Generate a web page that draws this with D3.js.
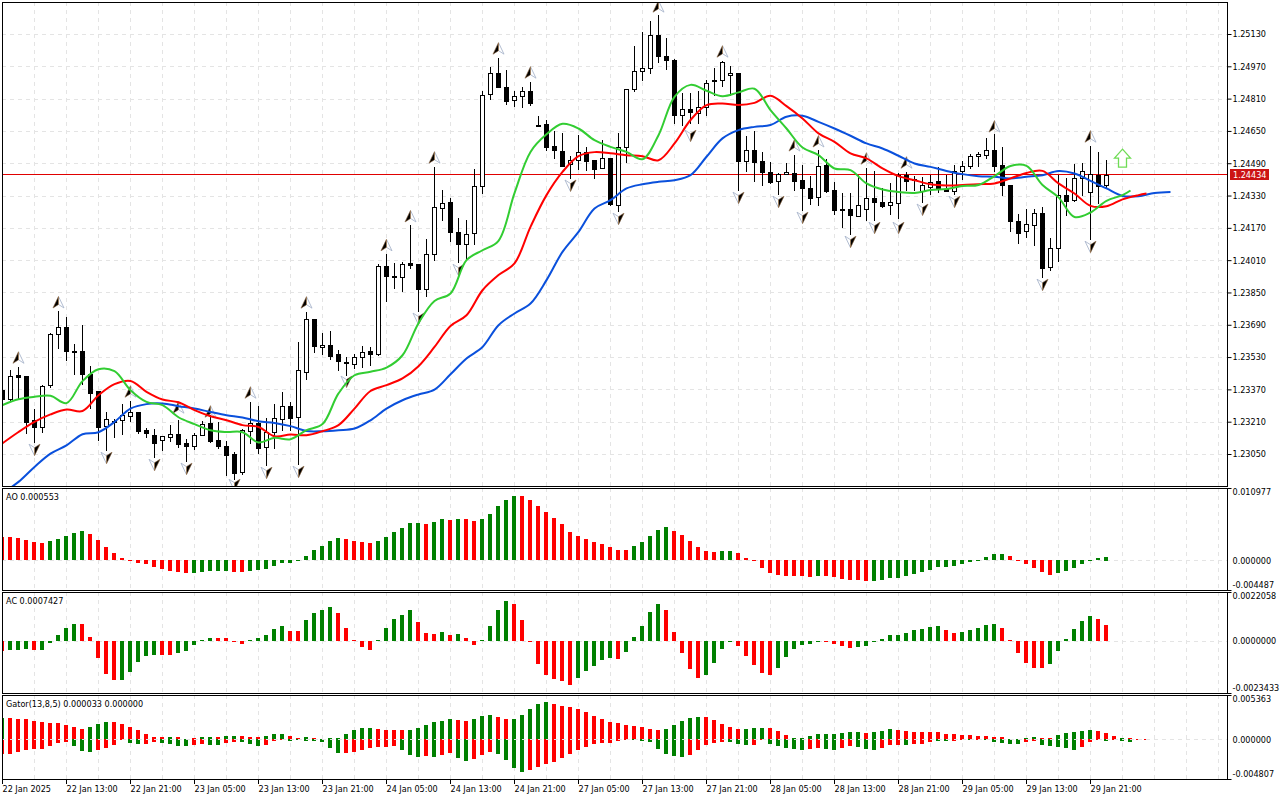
<!DOCTYPE html>
<html>
<head>
<meta charset="utf-8">
<script src="https://cdn.jsdelivr.net/npm/d3@7"></script>
<style>
html, body { margin: 0; padding: 0; background: #fff; }
svg { display: block; }
text { font-family: "DejaVu Sans Condensed", "Liberation Sans", sans-serif; font-size: 9px; fill: #000; }
</style>
</head>
<body>
<svg id="chart" width="1280" height="800"></svg>
<script>
// candles, one per bar
var highs = [1.23391,1.23465,1.23480,1.23435,1.23275,1.23391,1.23648,1.23757,1.23729,1.23594,1.23688,1.23485,1.23361,1.23257,1.23221,1.23297,1.23313,1.23257,1.23181,1.23173,1.23138,1.23193,1.23217,1.23122,1.23154,1.23214,1.23242,1.23207,1.23112,1.23060,1.23173,1.23307,1.23287,1.23227,1.23300,1.23356,1.23307,1.23604,1.23751,1.23721,1.23647,1.23658,1.23564,1.23531,1.23544,1.23584,1.23580,1.23989,1.24040,1.23994,1.23999,1.24183,1.23989,1.24117,1.24471,1.24357,1.24316,1.24217,1.24208,1.24459,1.24849,1.24968,1.25011,1.24951,1.24849,1.24866,1.24890,1.24723,1.24704,1.24649,1.24639,1.24525,1.24628,1.24568,1.24505,1.24604,1.24514,1.24638,1.24856,1.25070,1.25138,1.25194,1.25224,1.25110,1.25006,1.24839,1.24836,1.24846,1.24902,1.24960,1.24996,1.24971,1.24936,1.24624,1.24649,1.24544,1.24494,1.24442,1.24489,1.24530,1.24481,1.24426,1.24555,1.24512,1.24398,1.24343,1.24343,1.24431,1.24464,1.24451,1.24365,1.24390,1.24444,1.24447,1.24426,1.24423,1.24431,1.24472,1.24431,1.24481,1.24499,1.24534,1.24548,1.24614,1.24634,1.24568,1.24380,1.24241,1.24263,1.24263,1.24274,1.24122,1.24431,1.24416,1.24484,1.24489,1.24575,1.24544,1.24505];
var lows = [1.23307,1.23316,1.23326,1.23154,1.23108,1.23159,1.23381,1.23575,1.23515,1.23445,1.23399,1.23278,1.23118,1.23069,1.23135,1.23148,1.23212,1.23154,1.23135,1.23036,1.23069,1.23113,1.23085,1.23016,1.23077,1.23143,1.23110,1.23079,1.22945,1.22925,1.22953,1.23102,1.23055,1.22994,1.23080,1.23171,1.23168,1.22998,1.23419,1.23556,1.23544,1.23520,1.23465,1.23440,1.23478,1.23481,1.23493,1.23539,1.23808,1.23873,1.23858,1.23972,1.23757,1.23833,1.24011,1.24208,1.24106,1.24002,1.24010,1.24088,1.24343,1.24806,1.24868,1.24783,1.24773,1.24769,1.24779,1.24675,1.24555,1.24517,1.24476,1.24418,1.24459,1.24456,1.24418,1.24464,1.24284,1.24254,1.24494,1.24849,1.24902,1.24938,1.24992,1.24955,1.24687,1.24679,1.24687,1.24689,1.24728,1.24827,1.24872,1.24827,1.24357,1.24452,1.24401,1.24382,1.24393,1.24337,1.24437,1.24357,1.24258,1.24287,1.24282,1.24348,1.24241,1.24175,1.24139,1.24229,1.24208,1.24208,1.24274,1.24241,1.24217,1.24357,1.24357,1.24296,1.24340,1.24348,1.24352,1.24340,1.24411,1.24467,1.24476,1.24517,1.24451,1.24332,1.24155,1.24096,1.24125,1.24084,1.23927,1.23960,1.24005,1.24233,1.24304,1.24332,1.24114,1.24291,1.24365];
var opens = [1.23366,1.23320,1.23440,1.23435,1.23217,1.23184,1.23391,1.23642,1.23677,1.23559,1.23559,1.23447,1.23361,1.23184,1.23210,1.23214,1.23239,1.23257,1.23168,1.23143,1.23115,1.23135,1.23151,1.23103,1.23090,1.23146,1.23202,1.23118,1.23092,1.23049,1.22961,1.23164,1.23204,1.23082,1.23159,1.23226,1.23290,1.23229,1.23457,1.23721,1.23580,1.23592,1.23544,1.23506,1.23496,1.23533,1.23558,1.23543,1.23979,1.23931,1.23924,1.23994,1.23989,1.23863,1.24038,1.24271,1.24296,1.24147,1.24093,1.24142,1.24375,1.24831,1.24935,1.24870,1.24799,1.24821,1.24846,1.24681,1.24684,1.24573,1.24553,1.24484,1.24504,1.24548,1.24505,1.24464,1.24514,1.24286,1.24571,1.24854,1.24945,1.24960,1.25123,1.25019,1.24999,1.24727,1.24757,1.24740,1.24769,1.24900,1.24900,1.24923,1.24936,1.24502,1.24558,1.24499,1.24449,1.24405,1.24437,1.24444,1.24405,1.24365,1.24319,1.24479,1.24355,1.24261,1.24261,1.24229,1.24264,1.24316,1.24297,1.24279,1.24296,1.24431,1.24411,1.24348,1.24373,1.24401,1.24363,1.24353,1.24447,1.24472,1.24522,1.24534,1.24558,1.24479,1.24380,1.24202,1.24150,1.24185,1.24246,1.23972,1.24073,1.24335,1.24307,1.24415,1.24350,1.24434,1.24383];
var closes = [1.23321,1.23434,1.23430,1.23207,1.23184,1.23386,1.23642,1.23677,1.23556,1.23554,1.23447,1.23353,1.23184,1.23221,1.23215,1.23241,1.23257,1.23164,1.23154,1.23103,1.23137,1.23151,1.23100,1.23090,1.23146,1.23199,1.23113,1.23089,1.23045,1.22956,1.23171,1.23204,1.23080,1.23158,1.23226,1.23290,1.23229,1.23464,1.23721,1.23585,1.23592,1.23536,1.23511,1.23502,1.23531,1.23556,1.23541,1.23979,1.23927,1.23926,1.23989,1.23985,1.23863,1.24038,1.24271,1.24294,1.24147,1.24088,1.24142,1.24375,1.24826,1.24935,1.24868,1.24799,1.24821,1.24846,1.24788,1.24676,1.24571,1.24553,1.24481,1.24505,1.24546,1.24502,1.24461,1.24514,1.24284,1.24571,1.24856,1.24945,1.24960,1.25123,1.25017,1.24999,1.24725,1.24757,1.24740,1.24769,1.24888,1.24893,1.24989,1.24935,1.24502,1.24558,1.24497,1.24447,1.24398,1.24439,1.24447,1.24403,1.24363,1.24317,1.24474,1.24348,1.24254,1.24254,1.24229,1.24281,1.24316,1.24294,1.24279,1.24296,1.24434,1.24403,1.24406,1.24380,1.24398,1.24365,1.24353,1.24451,1.24474,1.24524,1.24534,1.24558,1.24477,1.24378,1.24200,1.24145,1.24187,1.24246,1.23972,1.24068,1.24335,1.24307,1.24415,1.24452,1.24439,1.24381,1.24434];

// alligator lines, read every second bar
var lipsBars = d3.range(0, 141, 2).concat([141]);
var lips = [1.23292,1.23321,1.23333,1.23338,1.23302,1.23411,1.23470,1.23460,1.23366,1.23308,1.23292,1.23232,1.23198,1.23168,1.23159,1.23158,1.23107,1.23130,1.23123,1.23168,1.23198,1.23350,1.23440,1.23457,1.23478,1.23539,1.23698,1.23808,1.23845,1.24010,1.24059,1.24106,1.24342,1.24546,1.24633,1.24685,1.24662,1.24604,1.24571,1.24546,1.24510,1.24629,1.24819,1.24878,1.24849,1.24822,1.24841,1.24859,1.24753,1.24662,1.24568,1.24530,1.24464,1.24456,1.24390,1.24360,1.24348,1.24343,1.24357,1.24362,1.24377,1.24382,1.24426,1.24476,1.24477,1.24382,1.24321,1.24224,1.24246,1.24304,1.24332,1.24355];
var teethBars = d3.range(0, 143, 2).concat([143]);
var teeth = [1.23103,1.23159,1.23209,1.23246,1.23270,1.23263,1.23341,1.23396,1.23412,1.23358,1.23320,1.23306,1.23267,1.23237,1.23217,1.23193,1.23184,1.23138,1.23146,1.23143,1.23163,1.23193,1.23275,1.23362,1.23391,1.23424,1.23485,1.23580,1.23684,1.23737,1.23861,1.23936,1.23994,1.24175,1.24332,1.24447,1.24525,1.24545,1.24539,1.24530,1.24525,1.24505,1.24588,1.24704,1.24778,1.24786,1.24778,1.24789,1.24824,1.24773,1.24712,1.24638,1.24596,1.24539,1.24514,1.24464,1.24426,1.24406,1.24386,1.24380,1.24382,1.24386,1.24390,1.24415,1.24442,1.24452,1.24390,1.24340,1.24279,1.24277,1.24311,1.24332,1.24340];
var jawBars = d3.range(0, 147, 2);
var jaw = [1.22856,1.22912,1.22986,1.23052,1.23093,1.23148,1.23158,1.23209,1.23275,1.23297,1.23300,1.23287,1.23275,1.23258,1.23242,1.23231,1.23212,1.23204,1.23188,1.23164,1.23163,1.23168,1.23176,1.23217,1.23275,1.23316,1.23345,1.23369,1.23445,1.23523,1.23580,1.23688,1.23746,1.23795,1.23911,1.24051,1.24150,1.24266,1.24307,1.24365,1.24386,1.24398,1.24406,1.24431,1.24522,1.24613,1.24654,1.24670,1.24679,1.24720,1.24725,1.24695,1.24662,1.24626,1.24588,1.24563,1.24527,1.24489,1.24472,1.24452,1.24436,1.24426,1.24423,1.24415,1.24423,1.24431,1.24451,1.24439,1.24403,1.24365,1.24328,1.24327,1.24343,1.24348];

// fractal arrows
var upFractalBars = [2,7,16,22,26,31,38,48,51,54,62,66,82,90,99,102,108,113,124,136];
var upFractalPrices = [1.23524,1.23798,1.23356,1.23277,1.23257,1.23351,1.23797,1.24081,1.24224,1.24515,1.25055,1.24936,1.25263,1.25040,1.24575,1.24595,1.24510,1.24490,1.24669,1.24619];
var downFractalBars = [4,13,19,23,29,33,37,43,52,57,71,77,86,92,97,100,106,109,112,115,119,130,136];
var downFractalPrices = [1.23074,1.23034,1.22999,1.22980,1.22900,1.22960,1.22965,1.23411,1.23723,1.23965,1.24382,1.24218,1.24629,1.24322,1.24302,1.24223,1.24104,1.24173,1.24173,1.24263,1.24302,1.23891,1.24079];
var signalBar = 140;
var signalPrice = 1.24515;
var lastPrice = 1.24434;

// oscillators
var aoValues = [0.00354,0.00354,0.00339,0.00308,0.00278,0.00263,0.00293,0.00323,0.00369,0.00414,0.00445,0.00399,0.00308,0.00202,0.00111,0.00035,-0.00005,-0.00040,-0.00056,-0.00101,-0.00131,-0.00162,-0.00177,-0.00192,-0.00192,-0.00177,-0.00162,-0.00162,-0.00162,-0.00177,-0.00177,-0.00162,-0.00147,-0.00131,-0.00086,-0.00040,-0.00040,-0.00020,0.00066,0.00157,0.00217,0.00293,0.00339,0.00323,0.00293,0.00278,0.00263,0.00293,0.00354,0.00430,0.00490,0.00566,0.00566,0.00551,0.00581,0.00627,0.00611,0.00627,0.00627,0.00596,0.00627,0.00702,0.00824,0.00915,0.00975,0.00975,0.00915,0.00824,0.00733,0.00642,0.00551,0.00430,0.00369,0.00323,0.00278,0.00248,0.00202,0.00157,0.00157,0.00217,0.00278,0.00369,0.00460,0.00505,0.00445,0.00384,0.00293,0.00202,0.00141,0.00126,0.00141,0.00141,0.00111,0.00035,-0.00020,-0.00116,-0.00192,-0.00222,-0.00237,-0.00237,-0.00237,-0.00253,-0.00237,-0.00237,-0.00253,-0.00283,-0.00298,-0.00298,-0.00313,-0.00313,-0.00298,-0.00268,-0.00268,-0.00237,-0.00207,-0.00177,-0.00147,-0.00101,-0.00101,-0.00086,-0.00056,-0.00025,-0.00010,0.00051,0.00096,0.00096,0.00066,0.00005,-0.00056,-0.00116,-0.00177,-0.00222,-0.00192,-0.00162,-0.00116,-0.00056,-0.00005,0.00035,0.00055];
var aoColors = "rrrrrr ggggg rrrrrrrrrrrrr ggggg rr gggggggggggg rrrr gggggg r gg r g rr ggggg rrrrrrrrrrrrrr ggggg rrrrrr gg rrrrrrrrrr g rrrrrr ggggggggggggggggg rrrrrr ggggggg";
var acValues = [-0.00044,-0.00041,-0.00041,-0.00036,-0.00041,-0.00041,-0.00008,0.00027,0.00059,0.00077,0.00077,0.00018,-0.00077,-0.00150,-0.00177,-0.00177,-0.00141,-0.00096,-0.00068,-0.00064,-0.00064,-0.00064,-0.00055,-0.00045,-0.00018,0.00005,0.00014,0.00014,0.00014,-0.00005,-0.00014,0.00005,0.00014,0.00027,0.00055,0.00068,0.00045,0.00045,0.00096,0.00127,0.00141,0.00155,0.00127,0.00059,0.00005,-0.00027,-0.00041,0.00005,0.00059,0.00100,0.00118,0.00141,0.00086,0.00036,0.00032,0.00041,0.00027,0.00032,0.00014,-0.00018,0.00005,0.00068,0.00141,0.00182,0.00168,0.00096,-0.00005,-0.00105,-0.00155,-0.00173,-0.00182,-0.00196,-0.00168,-0.00136,-0.00114,-0.00086,-0.00077,-0.00082,-0.00050,0.00018,0.00068,0.00132,0.00168,0.00141,0.00041,-0.00055,-0.00127,-0.00168,-0.00155,-0.00100,-0.00036,-0.00003,-0.00023,-0.00068,-0.00109,-0.00146,-0.00155,-0.00123,-0.00073,-0.00036,-0.00018,-0.00014,-0.00003,-0.00003,-0.00014,-0.00023,-0.00032,-0.00027,-0.00023,-0.00006,0.00009,0.00027,0.00027,0.00036,0.00050,0.00055,0.00064,0.00068,0.00050,0.00036,0.00041,0.00050,0.00059,0.00073,0.00077,0.00059,0.00005,-0.00055,-0.00100,-0.00123,-0.00123,-0.00105,-0.00045,0.00009,0.00055,0.00091,0.00114,0.00100,0.00074];
var acColors = "r ggg r ggggg rrrrr ggggg rr ggggg rrrr ggggg rr gggg rrrrr ggggg rrr g r g rr gggg rrrrrrrr ggggg r ggggg rrrrr gggg rrrrr gggggg rrrr ggggggggggg rr ggggg rrrrrr gggggg rr";
var gatorUpper = [0.00261,0.00261,0.00249,0.00249,0.00225,0.00212,0.00200,0.00200,0.00176,0.00151,0.00127,0.00151,0.00188,0.00212,0.00212,0.00188,0.00151,0.00114,0.00065,0.00029,0.00029,0.00029,0.00029,0.00004,0.00016,0.00029,0.00029,0.00029,0.00041,0.00041,0.00041,0.00029,0.00029,0.00041,0.00065,0.00065,0.00041,0.00016,0.00029,0.00016,0.00004,0.00016,0.00016,0.00065,0.00114,0.00139,0.00139,0.00127,0.00114,0.00114,0.00114,0.00114,0.00139,0.00176,0.00212,0.00225,0.00249,0.00237,0.00225,0.00249,0.00286,0.00298,0.00274,0.00249,0.00249,0.00298,0.00372,0.00433,0.00457,0.00433,0.00408,0.00396,0.00372,0.00335,0.00286,0.00249,0.00212,0.00200,0.00176,0.00163,0.00151,0.00127,0.00114,0.00127,0.00176,0.00225,0.00261,0.00274,0.00274,0.00237,0.00188,0.00151,0.00127,0.00127,0.00139,0.00139,0.00139,0.00102,0.00053,0.00016,0.00016,0.00041,0.00065,0.00065,0.00065,0.00078,0.00090,0.00090,0.00078,0.00090,0.00102,0.00127,0.00114,0.00102,0.00090,0.00090,0.00090,0.00090,0.00065,0.00065,0.00053,0.00053,0.00041,0.00041,0.00029,0.00029,0.00004,0.00004,0.00016,0.00029,0.00016,0.00016,0.00053,0.00078,0.00090,0.00102,0.00114,0.00102,0.00078,0.00041,0.00016,0.00016,0.00004,0.00004];
var gatorUpperColors = "g rrrrrrrrrr ggg rrrrrrr g rrr gg r gg rrr ggg rr g r ggggggg rrrr gggggg rr ggg rr ggggg rrrrrrrrrrrrrr ggggg rrrrr ggg rrr ggggggggg r ggg rrrrrrrrrrrrrr gggg rr ggggg rrr g rrr";
var gatorLower = [-0.00184,-0.00180,-0.00159,-0.00135,-0.00118,-0.00118,-0.00082,-0.00045,-0.00033,-0.00082,-0.00143,-0.00155,-0.00131,-0.00106,-0.00069,-0.00008,-0.00045,-0.00057,-0.00057,-0.00033,-0.00045,-0.00057,-0.00082,-0.00082,-0.00069,-0.00057,-0.00069,-0.00069,-0.00045,-0.00033,-0.00033,-0.00057,-0.00082,-0.00069,-0.00020,-0.00008,-0.00020,-0.00008,-0.00020,-0.00020,-0.00033,-0.00106,-0.00167,-0.00167,-0.00155,-0.00131,-0.00106,-0.00094,-0.00094,-0.00082,-0.00131,-0.00192,-0.00216,-0.00204,-0.00216,-0.00192,-0.00167,-0.00229,-0.00265,-0.00241,-0.00192,-0.00155,-0.00180,-0.00253,-0.00351,-0.00400,-0.00376,-0.00339,-0.00302,-0.00278,-0.00229,-0.00180,-0.00131,-0.00094,-0.00057,-0.00045,-0.00045,-0.00020,-0.00008,-0.00008,-0.00020,-0.00033,-0.00118,-0.00180,-0.00204,-0.00216,-0.00192,-0.00131,-0.00069,-0.00045,-0.00033,-0.00033,-0.00057,-0.00069,-0.00069,-0.00008,-0.00057,-0.00082,-0.00106,-0.00118,-0.00131,-0.00118,-0.00106,-0.00118,-0.00131,-0.00106,-0.00082,-0.00094,-0.00118,-0.00131,-0.00106,-0.00069,-0.00069,-0.00069,-0.00057,-0.00057,-0.00033,-0.00020,-0.00020,-0.00020,-0.00008,-0.00008,-0.00008,-0.00008,-0.00033,-0.00045,-0.00057,-0.00057,-0.00033,-0.00020,-0.00069,-0.00082,-0.00094,-0.00106,-0.00131,-0.00094,-0.00033,-0.00008,-0.00020,-0.00016,-0.00020,-0.00033,0,0];
var gatorLowerColors = "rrrrrrrrr ggg rrrr gg rr gggg rr gg rr ggg rrr ggggggg rrrrrrr ggg r g rr gg rrr gggg rrrrrrrrrrrrr ggggggg rrrrr ggg rr ggggg rr gg rr ggg rrr g rrr gg rr g r ggggg rr ggggg rrr g r gg rr";

// axis labels
var priceTicks = [1.25130,1.24970,1.24810,1.24650,1.24490,1.24330,1.24170,1.24010,1.23850,1.23690,1.23530,1.23370,1.23210,1.23050];
var timeLabels = ["22 Jan 2025","22 Jan 13:00","22 Jan 21:00","23 Jan 05:00","23 Jan 13:00","23 Jan 21:00","24 Jan 05:00","24 Jan 13:00","24 Jan 21:00","27 Jan 05:00","27 Jan 13:00","27 Jan 21:00","28 Jan 05:00","28 Jan 13:00","28 Jan 21:00","29 Jan 05:00","29 Jan 13:00","29 Jan 21:00"];

var RED = "#ff0000", GREEN = "#008000", GRID = "#e4e4e4";
var left = 2, right = 1227;

var svg = d3.select("#chart");
var x = d3.scaleLinear().domain([0, 146]).range([2, 1170]);
var y = d3.scaleLinear().domain([1.23050, 1.25130]).range([454, 34]);
var timeBars = timeLabels.map(function(d, i) { return i * 8; });
var gridBars = d3.range(4, 153, 4);

function px(v) { return Math.round(v) + 0.5; }
function colorList(s) { return s.replace(/ /g, "").split(""); }

function addClip(id, top, bottom) {
  svg.append("clipPath").attr("id", id).append("rect")
    .attr("x", left + 1).attr("y", top + 1)
    .attr("width", right - left - 1).attr("height", bottom - top - 1);
}

function verticalGrid(g, top, bottom) {
  g.selectAll("line.vgrid").data(gridBars).enter().append("line")
    .attr("class", "vgrid")
    .attr("x1", function(d) { return px(x(d)); })
    .attr("x2", function(d) { return px(x(d)); })
    .attr("y1", top).attr("y2", bottom)
    .attr("stroke", GRID).attr("stroke-dasharray", "4,4");
}

function frame(top, bottom) {
  svg.append("rect")
    .attr("x", left + 0.5).attr("y", top + 0.5)
    .attr("width", right - left).attr("height", bottom - top)
    .attr("fill", "none").attr("stroke", "#000");
}

// ---- main panel ----
var mainTop = 2, mainBottom = 486;
addClip("clip-main", mainTop, mainBottom);
var main = svg.append("g").attr("clip-path", "url(#clip-main)");

main.selectAll("line.hgrid").data(priceTicks).enter().append("line")
  .attr("class", "hgrid")
  .attr("x1", left).attr("x2", right)
  .attr("y1", function(d) { return px(y(d)); })
  .attr("y2", function(d) { return px(y(d)); })
  .attr("stroke", GRID).attr("stroke-dasharray", "4,4");
verticalGrid(main, mainTop, mainBottom);

// last price line, candles sit on top of it
var lastY = Math.floor(y(lastPrice));
main.append("rect").attr("class", "last-price")
  .attr("x", left).attr("width", right - left)
  .attr("y", lastY).attr("height", 1)
  .attr("fill", "#e00000").attr("shape-rendering", "crispEdges");

// candles
var bars = d3.range(highs.length);
var candle = main.selectAll("g.candle").data(bars).enter().append("g").attr("class", "candle");
candle.append("line")
  .attr("x1", function(d) { return px(x(d)); })
  .attr("x2", function(d) { return px(x(d)); })
  .attr("y1", function(d) { return Math.round(y(highs[d])); })
  .attr("y2", function(d) { return Math.round(y(lows[d])) + 1; })
  .attr("stroke", "#000");
candle.append("rect")
  .attr("x", function(d) { return px(x(d)) - 2; })
  .attr("width", 4)
  .attr("y", function(d) { return px(y(Math.max(opens[d], closes[d]))); })
  .attr("height", function(d) { return Math.max(1, Math.round(y(Math.min(opens[d], closes[d])) - y(Math.max(opens[d], closes[d])))); })
  .attr("fill", function(d) { return closes[d] >= opens[d] ? "#fff" : "#000"; })
  .attr("stroke", "#000");
svg.selectAll("g.candle line, g.candle rect").attr("shape-rendering", "crispEdges");

// fractal arrows
function fractal(g, bar, price, rot) {
  var a = g.append("g").attr("transform", "translate(" + (x(bar) + 0.5) + "," + y(price) + ") rotate(" + rot + ")");
  a.append("path").attr("d", "M0,-6.5L5.5,5L0,1.5L-5.5,5Z").attr("fill", "#fff").attr("stroke", "#a9b6cc").attr("stroke-width", 0.9);
  a.append("path").attr("d", "M0,-6.5L0,1.5L-5.5,5Z").attr("fill", "#000").attr("stroke", "#b8742c").attr("stroke-width", 0.4);
}
upFractalBars.forEach(function(b, i) { fractal(main, b, upFractalPrices[i], 0); });
downFractalBars.forEach(function(b, i) { fractal(main, b, downFractalPrices[i], 180); });

// alligator
function drawLine(barList, values, color) {
  var line = d3.line()
    .x(function(d) { return x(d) + 0.5; })
    .y(function(d, i) { return y(values[i]); })
    .curve(d3.curveCatmullRom.alpha(0.5));
  main.append("path").datum(barList)
    .attr("d", line).attr("fill", "none")
    .attr("stroke", color).attr("stroke-width", 2);
}
drawLine(jawBars, jaw, "#0a50dc");
drawLine(teethBars, teeth, "#ff0000");
drawLine(lipsBars, lips, "#32cd32");

// buy signal arrow
main.append("path")
  .attr("transform", "translate(" + (x(signalBar) + 0.5) + "," + y(signalPrice) + ")")
  .attr("d", "M0,-9L8,0L4,0L4,9L-4,9L-4,0L-8,0Z")
  .attr("fill", "#fff").attr("stroke", "#6fdc55").attr("stroke-width", 1.3);

// price axis
var priceAxis = d3.axisRight(y).tickValues(priceTicks).tickSize(4).tickPadding(1).tickFormat(d3.format(".5f"));
var priceG = svg.append("g").attr("transform", "translate(" + (right + 0.5) + ",0)").call(priceAxis);
priceG.select(".domain").remove();
priceG.selectAll("line").attr("stroke", "#000");

// last price tag
svg.append("rect").attr("x", 1230).attr("width", 39).attr("y", lastY - 5).attr("height", 11).attr("fill", "#cc1414");
svg.append("text").attr("x", 1233).attr("y", lastY + 4).style("fill", "#fff").text(d3.format(".5f")(lastPrice));

// ---- oscillator panels ----
function panel(name, top, bottom, min, max, fmt, title) {
  var sc = d3.scaleLinear().domain([min, max]).range([bottom, top]);
  addClip("clip-" + name, top, bottom);
  var g = svg.append("g").attr("clip-path", "url(#clip-" + name + ")");
  verticalGrid(g, top, bottom);
  g.append("line").attr("class", "zero")
    .attr("x1", left).attr("x2", right)
    .attr("y1", px(sc(0))).attr("y2", px(sc(0)))
    .attr("stroke", GRID).attr("stroke-dasharray", "4,4");

  var axis = d3.axisRight(sc).tickValues([max, 0, min]).tickSize(4).tickPadding(1)
    .tickFormat(function(d) { return d3.format(fmt)(d).replace("\u2212", "-"); });
  var ag = svg.append("g").attr("transform", "translate(" + (right + 0.5) + ",0)").call(axis);
  ag.select(".domain").remove();
  ag.selectAll("line").attr("stroke", function(d) { return d === 0 ? "none" : "#000"; });
  ag.selectAll("text").attr("dy", function(d) { return d === max ? "0.75em" : d === min ? "-0.25em" : "0.32em"; });

  svg.append("text").attr("x", 6).attr("y", top + 12).text(title);
  return { g: g, y: sc };
}

function histogram(p, values, colors) {
  var cols = colorList(colors);
  p.g.append("g").attr("shape-rendering", "crispEdges")
    .selectAll("rect").data(values).enter().append("rect")
    .attr("x", function(d, i) { return x(i) - 2; })
    .attr("width", 4)
    .attr("y", function(d) { return Math.round(Math.min(p.y(d), p.y(0))); })
    .attr("height", function(d) { return Math.max(d === 0 ? 0 : 1, Math.round(Math.abs(p.y(d) - p.y(0)))); })
    .attr("fill", function(d, i) { return cols[i] === "r" ? RED : GREEN; });
}

var aoPanel = panel("ao", 488, 590, -0.004487, 0.010977, ".6f", "AO 0.000553");
histogram(aoPanel, aoValues, aoColors);

var acPanel = panel("ac", 592, 693, -0.0023433, 0.0022058, ".7f", "AC 0.0007427");
histogram(acPanel, acValues, acColors);

var gatorPanel = panel("gator", 695, 779, -0.004807, 0.005363, ".6f", "Gator(13,8,5) 0.000033 0.000000");
histogram(gatorPanel, gatorUpper, gatorUpperColors);
histogram(gatorPanel, gatorLower, gatorLowerColors);
gatorPanel.g.append("line")
  .attr("x1", left).attr("x2", right)
  .attr("y1", px(gatorPanel.y(0))).attr("y2", px(gatorPanel.y(0)))
  .attr("stroke", GRID).attr("stroke-dasharray", "4,4");

// frames drawn last so they sit over the plots
frame(mainTop, mainBottom);
frame(488, 590);
frame(592, 693);
frame(695, 779);

// time axis
var timeAxis = d3.axisBottom(x).tickValues(timeBars).tickSize(4).tickPadding(2)
  .tickFormat(function(d) { return timeLabels[d / 8]; });
var timeG = svg.append("g").attr("transform", "translate(0,779.5)").call(timeAxis);
timeG.select(".domain").remove();
timeG.selectAll("line").attr("stroke", "#000").attr("shape-rendering", "crispEdges");
timeG.selectAll("text").attr("text-anchor", "start");
</script>
</body>
</html>
